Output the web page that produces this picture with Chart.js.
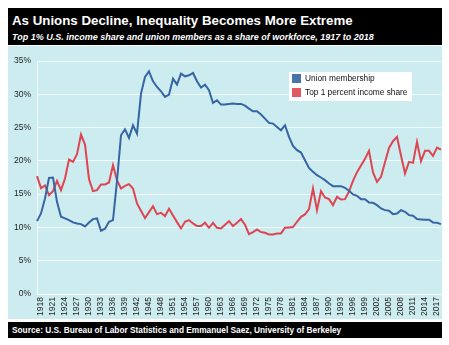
<!DOCTYPE html>
<html>
<head>
<meta charset="utf-8">
<script src="https://cdn.jsdelivr.net/npm/chart.js@4.4.1/dist/chart.umd.min.js"></script>
<style>
  body { margin: 0; background: #fff; width: 449px; height: 345px; position: relative; overflow: hidden;
         font-family: Arial, "Liberation Sans", sans-serif; }
  #titulo { position: absolute; left: 8px; top: 8px; width: 434px; height: 37px; background: #000; color: #fff; }
  #titulo h1 { margin: 0; position: absolute; left: 4px; top: 5px; font-size: 13.3px; font-weight: bold; white-space: nowrap; }
  #titulo p { margin: 0; position: absolute; left: 4px; top: 24px; font-size: 9px; font-weight: bold; font-style: italic; white-space: nowrap; }
  #panel { position: absolute; left: 8px; top: 46px; width: 434px; height: 273px; background: #cdecf0; }
  #fuente { position: absolute; left: 8px; top: 322px; width: 434px; height: 16px; background: #000; color: #fff;
            font-size: 8.3px; font-weight: bold; line-height: 16px; padding-left: 4px; box-sizing: border-box; white-space: nowrap; }
</style>
</head>
<body>
<div id="titulo">
  <h1>As Unions Decline, Inequality Becomes More Extreme</h1>
  <p>Top 1% U.S. income share and union members as a share of workforce, 1917 to 2018</p>
</div>
<div id="panel"><canvas id="myChart" width="434" height="273"></canvas></div>
<div id="fuente">Source: U.S. Bureau of Labor Statistics and Emmanuel Saez, University of Berkeley</div>

<script>
// Años 1917 a 2018 (categorías)
const years = Array.from({ length: 102 }, (_, i) => String(1917 + i));

// Etiquetas visibles del eje x (cada 3 años)
const tickYears = ['1918', '1921', '1924', '1927', '1930', '1933', '1936', '1939', '1942', '1945',
    '1948', '1951', '1954', '1957', '1960', '1963', '1966', '1969', '1972', '1975',
    '1978', '1981', '1984', '1987', '1990', '1993', '1996', '1999', '2002', '2005',
    '2008', '2011', '2014', '2017'];

// Afiliación sindical (% de la fuerza laboral)
const unionMembership = [
    10.95, 12.1, 14.35, 17.45, 17.5, 13.85, 11.6, 11.35, 11.1, 10.75,
    10.6, 10.5, 10.15, 10.75, 11.25, 11.35, 9.5, 9.8, 10.85, 11.1,
    17.0, 23.85, 24.75, 23.45, 25.35, 24.1, 30.1, 32.6, 33.45, 31.95,
    31.1, 30.45, 29.6, 29.95, 32.35, 31.45, 33.1, 32.7, 32.85, 33.2,
    31.95, 31.0, 31.45, 30.6, 28.7, 29.1, 28.45, 28.45, 28.55, 28.6,
    28.55, 28.55, 28.3, 27.85, 27.45, 27.45, 26.95, 26.35, 25.7, 25.6,
    25.1, 24.6, 25.35, 23.6, 22.25, 21.6, 21.25, 20.1, 18.95, 18.35,
    17.85, 17.5, 17.1, 16.6, 16.2, 16.2, 16.2, 15.95, 15.5, 14.95,
    14.75, 14.25, 14.25, 13.75, 13.7, 13.35, 12.85, 12.6, 12.5, 12.0,
    12.1, 12.6, 12.35, 11.85, 11.75, 11.25, 11.2, 11.15, 11.15, 10.75,
    10.7, 10.5
];

// Participación del 1% superior en el ingreso
const topOnePercent = [
    17.7, 15.9, 16.3, 14.85, 15.45, 17.0, 15.6, 17.35, 20.2, 19.85,
    21.0, 23.95, 22.45, 17.25, 15.45, 15.6, 16.45, 16.45, 16.75, 19.35,
    17.1, 15.85, 16.25, 16.5, 15.85, 13.6, 12.5, 11.4, 12.3, 13.2,
    12.0, 12.2, 11.7, 12.8, 11.8, 10.8, 9.85, 10.85, 11.1, 10.6,
    10.2, 10.2, 10.7, 9.95, 10.7, 9.95, 9.85, 10.4, 10.95, 10.2,
    10.7, 11.25, 10.4, 9.0, 9.3, 9.7, 9.3, 9.2, 8.95, 8.95,
    9.1, 9.1, 9.95, 10.0, 10.05, 10.85, 11.6, 11.95, 12.75, 15.85,
    12.6, 15.45, 14.5, 14.25, 13.35, 14.6, 14.2, 14.25, 15.4, 17.0,
    18.3, 19.3, 20.3, 21.5, 18.25, 16.85, 17.6, 19.8, 21.95, 22.95,
    23.6, 20.8, 18.1, 19.85, 19.7, 22.85, 19.95, 21.5, 21.5, 20.75,
    22.0, 21.7
];

const AZUL = '#3565a2';
const ROJO = '#dd4651';
const FUENTE = 'Arial, "Liberation Sans", sans-serif';

// Leyenda dibujada dentro del área del gráfico
const leyendaInterna = {
    id: 'leyendaInterna',
    afterDraw(chart) {
        const ctx = chart.ctx;
        const x = 281, y = 26, w = 123, h = 29;
        ctx.save();
        ctx.fillStyle = '#fff';
        ctx.fillRect(x, y, w, h);
        ctx.font = '8.3px ' + FUENTE;
        ctx.textBaseline = 'middle';
        chart.data.datasets.forEach((ds, i) => {
            const sy = y + 2 + i * 14;
            ctx.fillStyle = ds.borderColor;
            ctx.globalAlpha = 0.9;
            ctx.fillRect(x + 3, sy, 9, 9);
            ctx.globalAlpha = 1;
            ctx.fillStyle = '#111';
            ctx.fillText(ds.label, x + 16, sy + 5);
        });
        ctx.restore();
    }
};

new Chart(document.getElementById('myChart').getContext('2d'), {
    type: 'line',
    data: {
        labels: years,
        datasets: [
            { label: 'Union membership', data: unionMembership, borderColor: AZUL, borderWidth: 2, pointRadius: 0, tension: 0 },
            { label: 'Top 1 percent income share', data: topOnePercent, borderColor: ROJO, borderWidth: 2, pointRadius: 0, tension: 0 }
        ]
    },
    options: {
        responsive: false,
        animation: false,
        devicePixelRatio: 1,
        layout: { padding: { top: 15, right: 1, left: 0, bottom: 0 } },
        plugins: { legend: { display: false }, tooltip: { enabled: false } },
        scales: {
            x: {
                offset: false,
                grid: { display: false, drawTicks: false },
                border: { display: true, color: 'rgba(255,255,255,0.8)', width: 1 },
                ticks: {
                    autoSkip: false, maxRotation: 90, minRotation: 90, padding: 3,
                    color: '#222', font: { family: FUENTE, size: 8.5 },
                    callback: function (v) {
                        const lab = this.getLabelForValue(v);
                        return tickYears.includes(lab) ? lab : '';
                    }
                },
                afterFit: s => { s.height = 25; s.paddingLeft = 0; s.paddingRight = 0; }
            },
            y: {
                min: 0, max: 35,
                grid: { color: 'rgba(255,255,255,0.75)', lineWidth: 1, drawTicks: false },
                border: { display: true, color: 'rgba(255,255,255,0.8)', width: 1 },
                ticks: {
                    stepSize: 5, padding: 6, color: '#222', font: { family: FUENTE, size: 8.5 },
                    callback: v => v + '%'
                },
                afterFit: s => { s.width = 29; }
            }
        }
    },
    plugins: [leyendaInterna]
});
</script>
</body>
</html>
